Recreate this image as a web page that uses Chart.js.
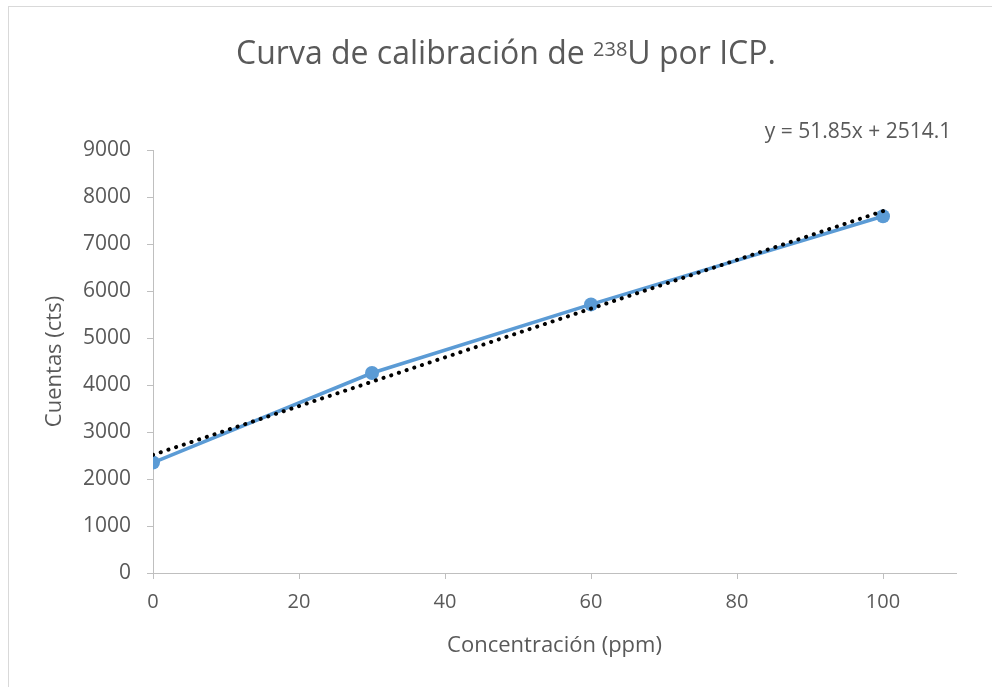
<!DOCTYPE html>
<html>
<head>
<meta charset="utf-8">
<script src="https://cdn.jsdelivr.net/npm/chart.js@4"></script>
<style>
  body { margin: 0; background: #fff; overflow: hidden; }
  #wrap { position: absolute; left: 0; top: 0; width: 992px; height: 687px; }
  #frame { position: absolute; left: 8px; top: 6px; width: 2000px; height: 2000px; border: 1px solid #d9d9d9; }
</style>
</head>
<body>
<div id="frame"></div>
<div id="wrap"><canvas id="myChart" width="992" height="687"></canvas></div>
<script>
// calibration standards (ppm) and measured counts
const concentracion = [0, 30, 60, 100];
const cuentas = [2350, 4255, 5715, 7590];
// linear trendline as shown on the chart: y = 51.85x + 2514.1
const trendX = [0, 100];
const trendY = [2514.1, 7699.1];
const yTicks = [0, 1000, 2000, 3000, 4000, 5000, 6000, 7000, 8000, 9000];
const xTicks = [0, 20, 40, 60, 80, 100];

const textColor = '#595959';
const axisColor = '#bfbfbf';
const fontFamily = '"Open Sans", "Noto Sans", sans-serif';

const points = concentracion.map((x, i) => ({x: x, y: cuentas[i]}));
const trend = trendX.map((x, i) => ({x: x, y: trendY[i]}));

// title with superscript + equation label
const textPlugin = {
    id: 'texts',
    afterDraw(chart) {
        const c = chart.ctx;
        c.save();
        c.fillStyle = textColor;
        c.textBaseline = 'alphabetic';
        const big = '32px ' + fontFamily;
        const small = '20px ' + fontFamily;
        const p1 = 'Curva de calibración de ';
        const sup = '238';
        const p2 = 'U por ICP.';
        c.font = big;
        const w1 = c.measureText(p1).width;
        const w3 = c.measureText(p2).width;
        c.font = small;
        const w2 = c.measureText(sup).width;
        let x = 506 - (w1 + w2 + w3) / 2;
        const base = 64;
        c.textAlign = 'left';
        c.font = big;
        c.fillText(p1, x, base);
        x += w1;
        c.font = small;
        c.fillText(sup, x, base - 8);
        x += w2;
        c.font = big;
        c.fillText(p2, x, base);

        c.font = '21px ' + fontFamily;
        c.textAlign = 'center';
        c.fillText('y = 51.85x + 2514.1', 858, 138);
        c.restore();
    }
};

const ctx = document.getElementById('myChart').getContext('2d');
let myChart = new Chart(ctx, {
    type: 'scatter',
    data: {
        datasets: [{
            label: 'Lineal',
            data: trend,
            showLine: true,
            borderColor: '#000000',
            borderWidth: 4,
            borderDash: [0.1, 8],
            borderCapStyle: 'round',
            pointRadius: 0,
            pointHoverRadius: 0
        }, {
            label: 'Cuentas',
            data: points,
            showLine: true,
            borderColor: '#5b9bd5',
            backgroundColor: '#5b9bd5',
            borderWidth: 3.5,
            pointRadius: 7,
            pointBorderWidth: 0,
            pointBackgroundColor: '#5b9bd5'
        }]
    },
    options: {
        responsive: false,
        animation: false,
        layout: {
            padding: {left: 20, right: 36, top: 150, bottom: 0}
        },
        plugins: {
            legend: { display: false },
            title: { display: false },
            tooltip: { enabled: false }
        },
        scales: {
            x: {
                type: 'linear',
                min: 0,
                max: 110,
                afterFit: s => { s.height = 114; },
                afterBuildTicks: s => { s.ticks = xTicks.map(v => ({value: v})); },
                grid: {
                    drawOnChartArea: false,
                    drawTicks: true,
                    tickLength: 6,
                    color: axisColor
                },
                border: { color: axisColor, width: 1 },
                ticks: {
                    color: textColor,
                    font: { family: fontFamily, size: 20 },
                    padding: 11,
                    maxRotation: 0,
                    callback: v => String(v)
                },
                title: {
                    display: true,
                    text: 'Concentración (ppm)',
                    color: textColor,
                    font: { family: fontFamily, size: 22 },
                    padding: { top: 0, bottom: 28 }
                }
            },
            y: {
                type: 'linear',
                min: 0,
                max: 9000,
                afterFit: s => { s.width = 133; },
                afterBuildTicks: s => { s.ticks = yTicks.map(v => ({value: v})); },
                grid: {
                    drawOnChartArea: false,
                    drawTicks: true,
                    tickLength: 6,
                    color: axisColor
                },
                border: { color: axisColor, width: 1 },
                ticks: {
                    color: textColor,
                    font: { family: fontFamily, size: 21 },
                    padding: 16,
                    callback: v => String(v)
                },
                title: {
                    display: true,
                    text: 'Cuentas (cts)',
                    color: textColor,
                    font: { family: fontFamily, size: 22 },
                    padding: { top: 22, bottom: 0 }
                }
            }
        }
    },
    plugins: [textPlugin]
});
</script>
</body>
</html>
